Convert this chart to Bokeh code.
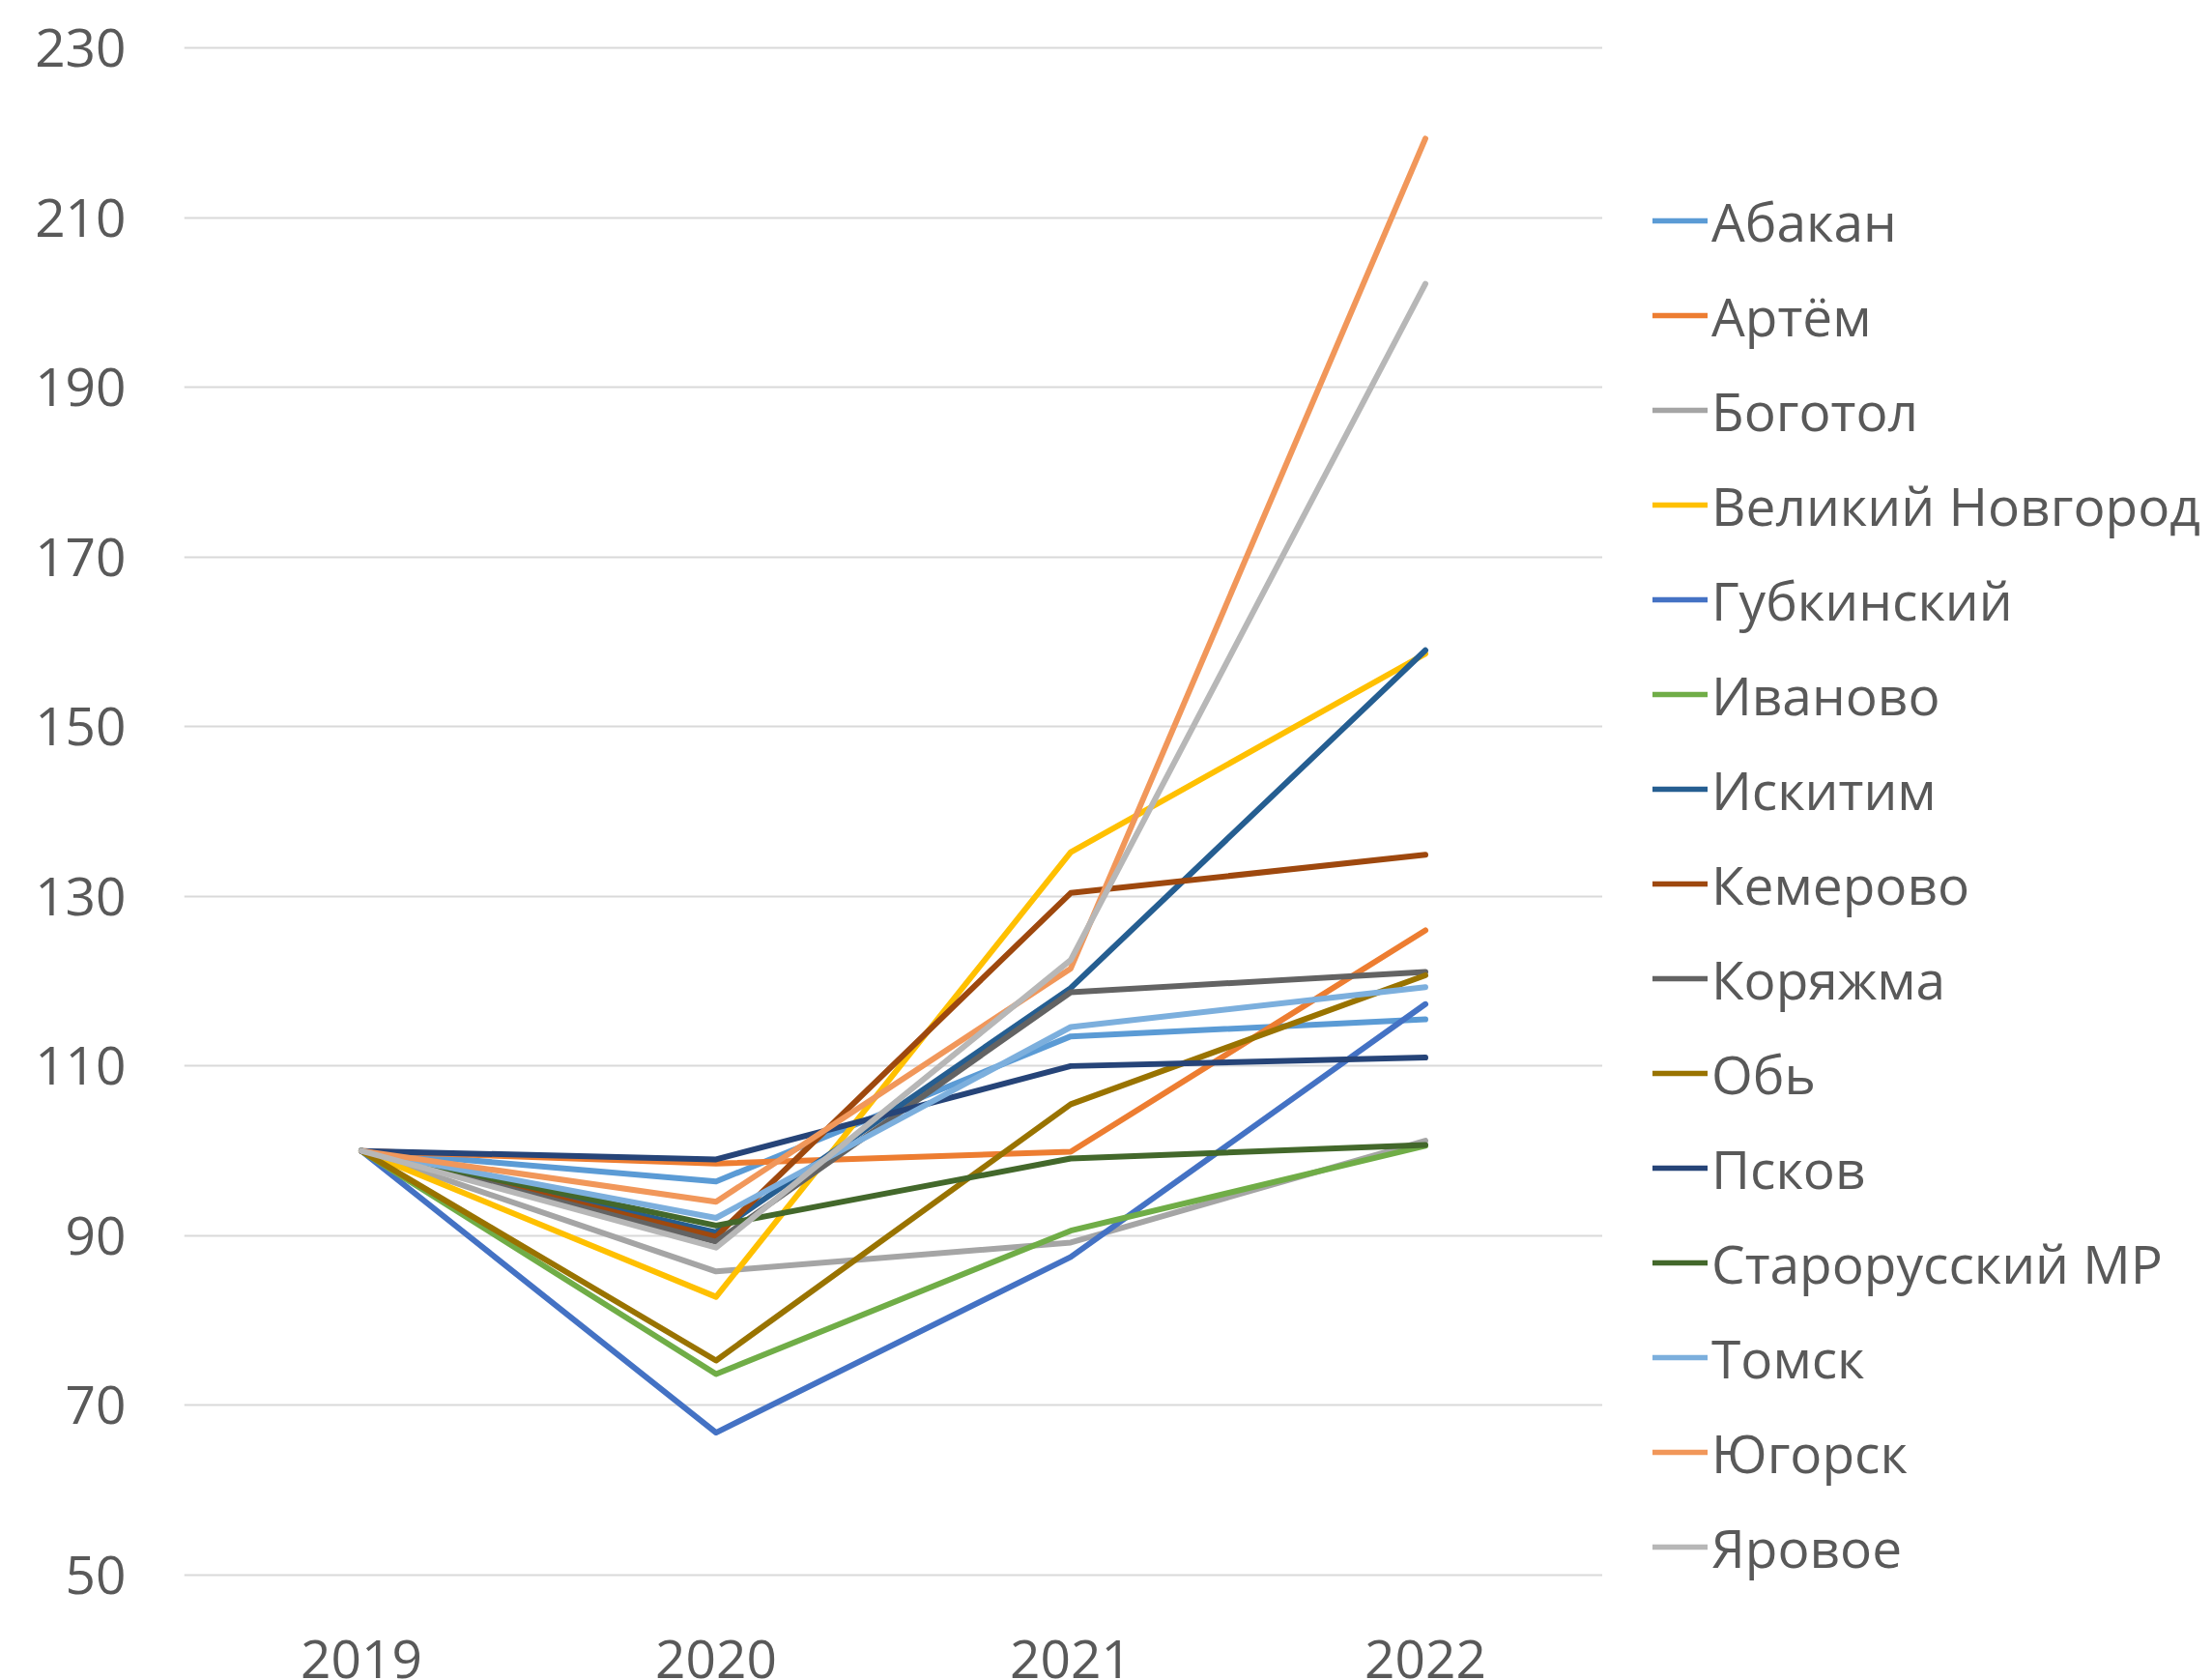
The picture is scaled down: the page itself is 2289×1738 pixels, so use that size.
from bokeh.plotting import figure
from bokeh.layouts import row
from bokeh.models import FactorRange, Range1d, Legend, LegendItem, FixedTicker, ColumnDataSource
from bokeh.embed import file_html
from bokeh.resources import INLINE

years = ["2019", "2020", "2021", "2022"]

names = ["Абакан", "Артём", "Боготол", "Великий Новгород", "Губкинский", "Иваново",
         "Искитим", "Кемерово", "Коряжма", "Обь", "Псков", "Старорусский МР",
         "Томск", "Югорск", "Яровое"]

abakan = [100, 96.4, 113.5, 115.5]
artem = [100, 98.5, 99.9, 126.0]
bogotol = [100, 85.8, 89.2, 101.2]
novgorod = [100, 82.8, 135.2, 158.6]
gubkinsky = [100, 66.8, 87.5, 117.3]
ivanovo = [100, 73.7, 90.6, 100.6]
iskitim = [100, 90.4, 119.2, 159.0]
kemerovo = [100, 89.9, 130.4, 134.9]
koryazhma = [100, 89.3, 118.7, 121.1]
ob = [100, 75.3, 105.5, 120.7]
pskov = [100, 99.0, 110.0, 111.0]
starorussky = [100, 91.2, 99.1, 100.7]
tomsk = [100, 92.1, 114.6, 119.3]
yugorsk = [100, 94.0, 121.5, 219.3]
yarovoe = [100, 88.6, 122.5, 202.2]

series = [abakan, artem, bogotol, novgorod, gubkinsky, ivanovo, iskitim, kemerovo,
          koryazhma, ob, pskov, starorussky, tomsk, yugorsk, yarovoe]

colors = ["#5B9BD5", "#ED7D31", "#A5A5A5", "#FFC000", "#4472C4", "#70AD47",
          "#255E91", "#9E480E", "#636363", "#997300", "#264478", "#43682B",
          "#7CAFDD", "#F1975A", "#B7B7B7"]

y_ticks = [50, 70, 90, 110, 130, 150, 170, 190, 210, 230]

FONT = "Open Sans"
TEXT_COLOR = "#595959"
H = 1738
TOP = 47
BOTTOM = 80

p = figure(width=1658, height=H, output_backend="svg", toolbar_location=None,
           x_range=FactorRange(*years, range_padding=0),
           y_range=Range1d(46.93, 230.23),
           min_border_left=190, min_border_right=0, min_border_top=TOP, min_border_bottom=BOTTOM)
p.outline_line_color = None
p.background_fill_color = "white"

for name, vals, col in zip(names, series, colors):
    src = ColumnDataSource(dict(x=years, y=vals))
    p.line("x", "y", source=src, line_color=col, line_width=6, line_join="round", line_cap="round")

p.yaxis.ticker = FixedTicker(ticks=y_ticks)
p.ygrid.ticker = FixedTicker(ticks=y_ticks)
p.xgrid.grid_line_color = None
p.ygrid.grid_line_color = "#D9D9D9"
p.ygrid.grid_line_width = 2

for ax in (p.xaxis[0], p.yaxis[0]):
    ax.axis_line_color = None
    ax.major_tick_line_color = None
    ax.minor_tick_line_color = None
    ax.major_tick_out = 0
    ax.major_tick_in = 0
    ax.minor_tick_out = 0
    ax.major_label_text_font = FONT
    ax.major_label_text_font_size = "55px"
    ax.major_label_text_color = TEXT_COLOR
p.yaxis.major_label_standoff = 60
p.xaxis.major_label_standoff = 40

# legend panel (own figure to the right of the chart)
q = figure(width=2289 - 1658, height=H, output_backend="svg", toolbar_location=None,
           x_range=Range1d(0, 1), y_range=Range1d(0, 1),
           x_axis_location=None, y_axis_location=None,
           min_border_left=0, min_border_top=TOP, min_border_right=0, min_border_bottom=0)
q.outline_line_color = None
q.grid.grid_line_color = None

items = []
for name, vals, col in zip(names, series, colors):
    # one-point stand-in renderer (draws nothing, off range) that carries the legend style
    r = q.line(x=[0], y=[vals[0]], line_color=col, line_width=5.5, line_cap="round")
    items.append(LegendItem(label=name, renderers=[r]))

legend = Legend(items=items, location=(52, 7), padding=0, margin=0,
                spacing=0, label_height=98, glyph_height=98, glyph_width=57,
                label_standoff=4, border_line_alpha=0, background_fill_alpha=0,
                label_text_font=FONT, label_text_font_size="55px",
                label_text_color=TEXT_COLOR)
q.add_layout(legend, "center")

layout = row(p, q, spacing=0)
open("out.html", "w").write(file_html(layout, INLINE))
